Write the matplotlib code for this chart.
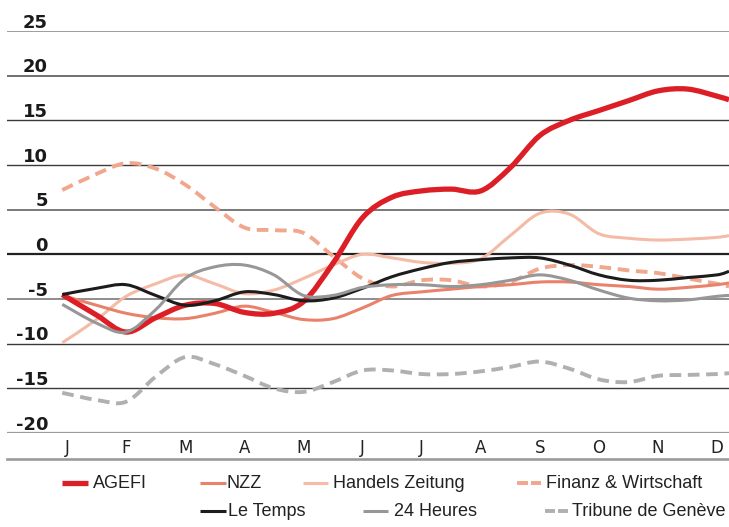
import numpy as np
import matplotlib
matplotlib.use('Agg')
import matplotlib.pyplot as plt
from matplotlib.lines import Line2D
from matplotlib.path import Path
from matplotlib.patches import PathPatch

plt.rcParams['font.family'] = ['DejaVu Sans']

# half-month readings, x in months (0 = J)
x = [-0.08] + list(np.arange(0.5, 11.01, 0.5)) + [11.2]
months = ['J', 'F', 'M', 'A', 'M', 'J', 'J', 'A', 'S', 'O', 'N', 'D']
yticks = [25, 20, 15, 10, 5, 0, -5, -10, -15, -20]

agefi = [-4.5, -6.8, -8.7, -7.1, -5.7, -5.5, -6.5, -6.6, -5.3, -1.0, 4.1, 6.4,
         7.1, 7.3, 7.1, 9.7, 13.3, 15.0, 16.1, 17.2, 18.3, 18.5, 17.7, 17.3]
nzz = [-4.6, -5.7, -6.6, -7.1, -7.2, -6.6, -5.8, -6.5, -7.3, -7.2, -6.0, -4.6,
       -4.2, -3.9, -3.6, -3.4, -3.1, -3.1, -3.4, -3.6, -3.9, -3.7, -3.4, -3.2]
handels = [-9.9, -7.3, -4.7, -3.3, -2.3, -3.3, -4.4, -4.0, -2.7, -1.2, 0.0, -0.4,
           -0.9, -1.0, -0.5, 2.1, 4.6, 4.5, 2.3, 1.8, 1.6, 1.7, 1.9, 2.1]
finanz = [7.2, 9.0, 10.2, 9.6, 7.8, 5.3, 3.0, 2.7, 2.4, -0.2, -2.7, -3.6,
          -2.9, -2.9, -3.6, -3.1, -1.6, -1.2, -1.4, -1.8, -2.1, -2.7, -3.3, -3.6]
le_temps = [-4.5, -3.8, -3.4, -4.6, -5.7, -5.2, -4.2, -4.5, -5.2, -4.9, -3.8, -2.5,
            -1.6, -0.9, -0.6, -0.4, -0.4, -1.2, -2.3, -2.9, -2.9, -2.6, -2.3, -1.9]
heures24 = [-5.6, -7.7, -8.7, -6.2, -2.7, -1.4, -1.2, -2.3, -4.6, -4.6, -3.7, -3.4,
            -3.4, -3.6, -3.4, -2.9, -2.3, -2.9, -4.0, -4.9, -5.2, -5.1, -4.7, -4.6]
tribune = [-15.5, -16.3, -16.5, -13.7, -11.5, -12.3, -13.6, -15.0, -15.4, -14.3, -13.0, -13.0,
           -13.4, -13.4, -13.1, -12.6, -12.0, -12.8, -14.0, -14.3, -13.6, -13.5, -13.4, -13.3]


def smooth_path(xs, ys):
    # Catmull-Rom through the points, as cubic bezier segments
    p = np.column_stack([xs, ys]).astype(float)
    ext = np.vstack([p[0], p, p[-1]])
    verts = [p[0]]
    codes = [Path.MOVETO]
    for i in range(len(p) - 1):
        p0, p1, p2, p3 = ext[i], ext[i + 1], ext[i + 2], ext[i + 3]
        verts += [p1 + (p2 - p0) / 6, p2 - (p3 - p1) / 6, p2]
        codes += [Path.CURVE4] * 3
    return Path(verts, codes)


W, H = 729, 527
fig = plt.figure(figsize=(W / 100, H / 100), dpi=100)
ax = fig.add_axes([7 / W, (H - 433) / H, (729 - 7) / W, (433 - 31) / H])
ax.set_xlim(-1.015, 11.2)
ax.set_ylim(-20, 25)
ax.axis('off')

# gridlines
grid_style = {25: ('#8c8c8c', 1.2), 20: ('#4a4a4a', 1.1), 15: ('#3a3a3a', 1.0),
              10: ('#3a3a3a', 1.0), 5: ('#555555', 1.1), 0: ('#222222', 1.6),
              -5: ('#7a7a7a', 1.2), -10: ('#3a3a3a', 1.0), -15: ('#3a3a3a', 1.0),
              -20: ('#9a9a9a', 1.6)}
for v in yticks:
    c, lw = grid_style[v]
    ax.axhline(v, color=c, lw=lw, zorder=1)
    ax.annotate(str(v), xy=(0.0568, v), xycoords=('axes fraction', 'data'),
                xytext=(0, 2.5), textcoords='offset points', ha='right', va='baseline',
                fontsize=13, fontweight='bold', color='#1a1a1a')

for i, m in enumerate(months):
    ax.text(i, -0.037, m, transform=ax.get_xaxis_transform(), ha='center', va='center',
            fontsize=12, color='#222222')

fig.add_artist(Line2D([7 / W, 1], [(H - 459) / H] * 2, color='#9a9a9a', lw=1.9))

dash = (0, (3, 1.7))
series = [
    ('Tribune de Genève', tribune, '#b0b0b3', 2.8, dash),
    ('Finanz & Wirtschaft', finanz, '#f0a78d', 2.8, dash),
    ('Handels Zeitung', handels, '#f4bba6', 2.2, '-'),
    ('NZZ', nzz, '#e8826a', 2.2, '-'),
    ('AGEFI', agefi, '#dc1f26', 3.8, '-'),
    ('Le Temps', le_temps, '#1c1c1c', 2.2, '-'),
    ('24 Heures', heures24, '#979797', 2.2, '-'),
]
style = {}
for name, vals, c, lw, ls in series:
    ax.add_patch(PathPatch(smooth_path(x, vals), facecolor='none', edgecolor=c, lw=lw,
                           ls=ls, zorder=3, capstyle='butt', joinstyle='round'))
    style[name] = (c, lw, ls)

# legend, positions in pixels
legend_pos = [
    ('AGEFI', 62, 88, 93, 483),
    ('NZZ', 200, 226, 227, 483),
    ('Handels Zeitung', 303, 328, 333, 483),
    ('Finanz & Wirtschaft', 517, 541, 546, 483),
    ('Le Temps', 200, 226, 228, 511),
    ('24 Heures', 363, 388, 394, 511),
    ('Tribune de Genève', 545, 568, 572, 511),
]
for name, x0, x1, tx, py in legend_pos:
    c, lw, ls = style[name]
    if ls == '-':
        fig.add_artist(Line2D([x0 / W, x1 / W], [(H - py) / H] * 2, color=c, lw=lw,
                              solid_capstyle='butt'))
    else:
        mid = (x0 + x1) / 2
        for a, b in [(x0, mid - 1.5), (mid + 1.5, x1)]:
            fig.add_artist(Line2D([a / W, b / W], [(H - py) / H] * 2, color=c, lw=lw,
                                  solid_capstyle='butt'))
    fig.text(tx / W, (H - py) / H, name, ha='left', va='center', fontsize=13,
             color='#222222', family=['Liberation Sans', 'DejaVu Sans'])

fig.savefig('out.png', dpi=100)
